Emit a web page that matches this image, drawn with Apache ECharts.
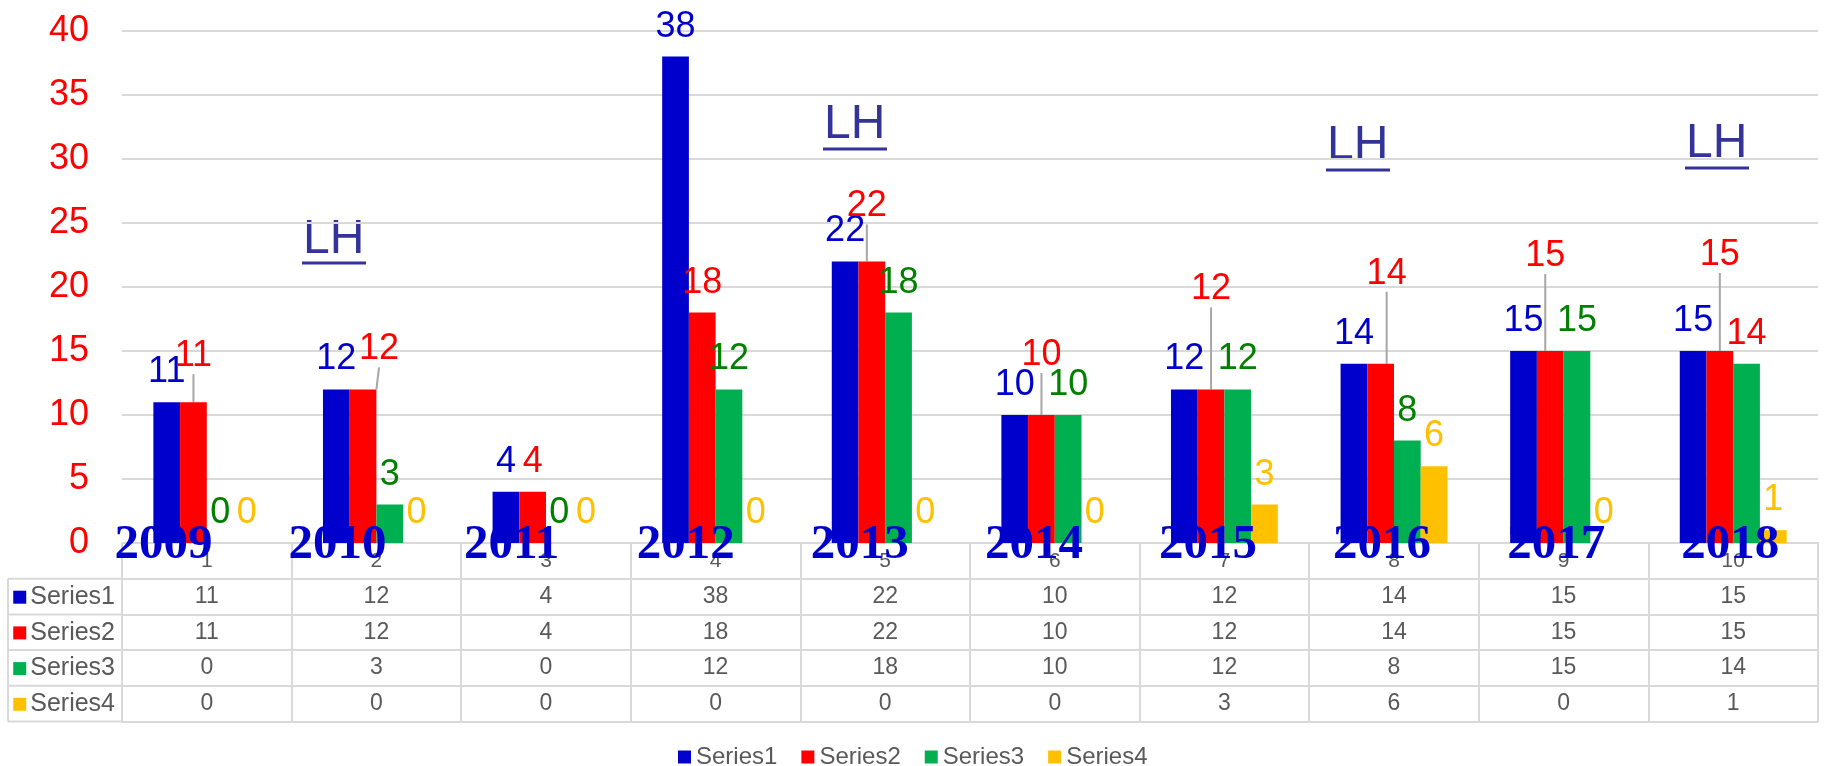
<!DOCTYPE html>
<html>
<head>
<meta charset="utf-8">
<script src="https://cdn.jsdelivr.net/npm/echarts@6/dist/echarts.min.js"></script>
<style>
  html, body { margin: 0; padding: 0; background: #fff; }
  #main { width: 1825px; height: 766px; }
</style>
</head>
<body>
<div id="main"></div>
<script>
// data
var categories = ['1', '2', '3', '4', '5', '6', '7', '8', '9', '10'];
var years = [2009, 2010, 2011, 2012, 2013, 2014, 2015, 2016, 2017, 2018];
var seriesNames = ['Series1', 'Series2', 'Series3', 'Series4'];
var series1 = [11, 12, 4, 38, 22, 10, 12, 14, 15, 15];
var series2 = [11, 12, 4, 18, 22, 10, 12, 14, 15, 15];
var series3 = [0, 3, 0, 12, 18, 10, 12, 8, 15, 14];
var series4 = [0, 0, 0, 0, 0, 0, 3, 6, 0, 1];
var yMin = 0, yMax = 40, yStep = 5;

// Series2 labels were dragged by hand in the original (px nudges)
var s2LabelShift = [[0, -16], [16, -10], [0, 0], [0, 0], [-5, -25], [0, -30], [0, -70], [6, -60], [-5, -65], [0, -66]];

var barColors = ['#0000CC', '#FF0000', '#00B050', '#FFC000'];
var labelColors = ['#0000CC', '#FF0000', '#008000', '#FFC000'];
var lineGray = '#D9D9D9';
var textGray = '#595959';

// layout
var gridLeft = 122, gridRight = 7, gridTop = 31, gridBottom = 223;
var axisY = 766 - gridBottom;
var rowH = 35.7;
var tableLeft = 8;

var myChart = echarts.init(document.getElementById('main'));

var rows = [series1, series2, series3, series4];

var xAxes = [
  {
    type: 'category',
    data: categories,
    position: 'bottom',
    axisLine: { onZero: false, lineStyle: { color: lineGray, width: 2 } },
    axisTick: { show: true, interval: 0, length: rowH, lineStyle: { color: lineGray, width: 2 } },
    axisLabel: { interval: 0, color: textGray, fontSize: 21, margin: 7.5, fontFamily: 'Liberation Sans' }
  },
  {
    // years written over the axis
    type: 'value',
    position: 'bottom',
    min: 2008.762,
    max: 2018.504,
    z: 10,
    axisLine: { show: false, onZero: false },
    axisTick: { show: false },
    splitLine: { show: false },
    axisLabel: {
      customValues: years,
      formatter: function (v) { return String(v); },
      color: '#0000CC',
      fontFamily: 'Liberation Serif',
      fontWeight: 'bold',
      fontSize: 49,
      margin: -22
    }
  }
];

rows.forEach(function (vals, r) {
  var rich = {
    sq: { width: 13, height: 13, backgroundColor: barColors[r] },
    t: { fontSize: 25, color: textGray, padding: [0, 0, 0, 4], fontFamily: 'Liberation Sans' }
  };
  xAxes.push({
    type: 'category',
    data: categories,
    position: 'bottom',
    offset: rowH * (r + 1),
    name: '{sq| }{t|' + seriesNames[r] + '}',
    nameLocation: 'start',
    nameGap: 7,
    nameTextStyle: { align: 'right', verticalAlign: 'top', padding: [6, 0, 0, 0], rich: rich },
    axisLine: { onZero: false, lineStyle: { color: lineGray, width: 2 } },
    axisTick: { show: true, interval: 0, length: rowH, lineStyle: { color: lineGray, width: 2 } },
    axisLabel: {
      interval: 0, color: textGray, fontSize: 23, margin: 6.5, fontFamily: 'Liberation Sans',
      formatter: function (v, i) { return String(vals[i]); }
    }
  });
});

// bottom border of the table
xAxes.push({
  type: 'category',
  data: categories,
  position: 'bottom',
  offset: rowH * 5,
  axisLine: { onZero: false, lineStyle: { color: lineGray, width: 2 } },
  axisTick: { show: false },
  axisLabel: { show: false }
});

function barSeries(idx, data) {
  return {
    name: seriesNames[idx],
    type: 'bar',
    xAxisIndex: 0,
    barGap: '0%',
    barCategoryGap: '37%',
    itemStyle: { color: barColors[idx] },
    label: {
      show: true,
      position: 'top',
      distance: 12,
      color: labelColors[idx],
      fontSize: 36,
      fontFamily: 'Liberation Sans'
    },
    data: data
  };
}

var s2 = barSeries(1, series2.map(function (v, i) {
  var s = s2LabelShift[i];
  return { value: v, labelLine: { show: s[0] !== 0 || s[1] !== 0 } };
}));
s2.labelLine = { show: true, lineStyle: { color: '#A6A6A6', width: 2 } };
s2.labelLayout = function (p) {
  var s = s2LabelShift[p.dataIndex];
  return { dx: s[0], dy: s[1] };
};

// the last Series3 label is red in the original
var s3 = barSeries(2, series3.map(function (v, i) {
  return i === series3.length - 1 ? { value: v, label: { color: '#FF0000' } } : v;
}));

// hand-drawn "LH" marks: [left, glyph middle, underline y]
var lhMarks = [[303, 240, 263], [824, 125, 149], [1327, 146, 170], [1686, 144, 168]];
var graphics = [];
lhMarks.forEach(function (m) {
  graphics.push({
    type: 'text',
    style: { x: m[0], y: m[1], text: 'LH', fill: '#333399', font: '48px "Liberation Sans"', verticalAlign: 'middle', align: 'left' }
  });
  graphics.push({
    type: 'line',
    shape: { x1: m[0] - 1, y1: m[2], x2: m[0] + 63, y2: m[2] },
    style: { stroke: '#333399', lineWidth: 3 }
  });
});
// left column of the data table
for (var k = 1; k <= 5; k++) {
  graphics.push({
    type: 'line',
    shape: { x1: tableLeft, y1: axisY + rowH * k, x2: gridLeft, y2: axisY + rowH * k },
    style: { stroke: lineGray, lineWidth: 2 }
  });
}
graphics.push({
  type: 'line',
  shape: { x1: tableLeft, y1: axisY + rowH, x2: tableLeft, y2: axisY + rowH * 5 },
  style: { stroke: lineGray, lineWidth: 2 }
});

myChart.setOption({
  animation: false,
  backgroundColor: '#fff',
  grid: { left: gridLeft, right: gridRight, top: gridTop, bottom: gridBottom, containLabel: false, outerBoundsMode: 'none' },
  legend: {
    data: seriesNames,
    left: 673,
    top: 740,
    icon: 'rect',
    itemWidth: 13,
    itemHeight: 13,
    itemGap: 24,
    textStyle: { color: textGray, fontSize: 24, fontFamily: 'Liberation Sans' }
  },
  xAxis: xAxes,
  yAxis: {
    type: 'value',
    min: yMin,
    max: yMax,
    interval: yStep,
    axisLine: { show: false },
    axisTick: { show: false },
    splitLine: { lineStyle: { color: lineGray, width: 2 } },
    axisLabel: { color: '#FF0000', fontSize: 36, margin: 33, fontFamily: 'Liberation Sans' }
  },
  graphic: graphics,
  series: [
    barSeries(0, series1),
    s2,
    s3,
    barSeries(3, series4)
  ]
});
</script>
</body>
</html>
